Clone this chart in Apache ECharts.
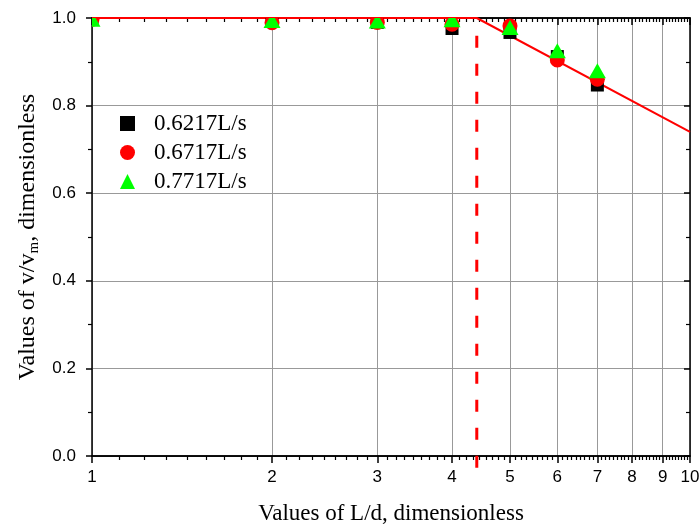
<!DOCTYPE html>
<html>
<head>
<meta charset="utf-8">
<script src="https://cdn.jsdelivr.net/npm/echarts@6/dist/echarts.min.js"></script>
<style>html,body{margin:0;padding:0;background:#fff;}#c{width:700px;height:529px;}</style>
</head>
<body>
<div id="c"></div>
<script>
// ---- data ----
const ldValues = [1, 2, 3, 4, 5, 6, 7];
const flow1Name = '0.6217L/s';
const flow2Name = '0.6717L/s';
const flow3Name = '0.7717L/s';
const flow1 = [1.0, 0.992, 0.990, 0.976, 0.967, 0.912, 0.847];
const flow2 = [0.997, 0.989, 0.990, 0.986, 0.982, 0.904, 0.860];
const flow3 = [0.995, 0.992, 0.991, 0.994, 0.976, 0.923, 0.877];
const fitX = [1, 4.4, 10];
const fitY = [1.0, 1.0, 0.74];
const breakX = 4.4;
const breakY = [-0.027, 0.977];
const xTickValues = [1, 2, 3, 4, 5, 6, 7, 8, 9, 10];

// minor tick positions: 8 minor ticks per major interval
const xMinor = [];
for (let i = 0; i < xTickValues.length - 1; i++) {
  const a = xTickValues[i], b = xTickValues[i + 1];
  for (let k = 1; k <= 8; k++) xMinor.push(a + k * (b - a) / 9);
}

const pair = (xs, ys) => xs.map((x, i) => [x, ys[i]]);

const serif = 'Liberation Serif';
const sans = 'Liberation Sans';

const baseX = {
  type: 'log', logBase: 10, min: 1, max: 10, gridIndex: 0,
  axisLine: { show: true, onZero: false, lineStyle: { color: '#000', width: 1.5 } },
  splitLine: { show: false },
  axisLabel: { show: false },
  minorTick: { show: false },
  minorSplitLine: { show: false }
};

// marker drawers (custom series so markers are clipped by the plot frame)
function makeRender(kind) {
  return function (params, api) {
    const p = api.coord([api.value(0), api.value(1)]);
    const color = api.visual('color');
    if (kind === 'rect') {
      return { type: 'rect', shape: { x: p[0] - 6.5, y: p[1] - 6.5, width: 13, height: 13 }, style: { fill: color } };
    }
    if (kind === 'circle') {
      return { type: 'circle', shape: { cx: p[0], cy: p[1], r: 7.5 }, style: { fill: color } };
    }
    return { type: 'polygon', shape: { points: [[p[0], p[1] - 8.5], [p[0] - 8.5, p[1] + 6.5], [p[0] + 8.5, p[1] + 6.5]] }, style: { fill: color } };
  };
}

const chart = echarts.init(document.getElementById('c'));
chart.setOption({
  animation: false,
  backgroundColor: '#fff',
  grid: { left: 92, right: 10, top: 18, bottom: 73, containLabel: false, outerBoundsMode: 'none' },
  legend: {
    orient: 'vertical', left: 115, top: 107, itemGap: 6,
    itemWidth: 15, itemHeight: 15,
    textStyle: { fontFamily: serif, fontSize: 23, color: '#000', padding: [0, 0, 0, 14] },
    data: [
      { name: flow1Name, icon: 'rect', itemStyle: { color: '#000000' } },
      { name: flow2Name, icon: 'circle', itemStyle: { color: '#ff0000' } },
      { name: flow3Name, icon: 'triangle', itemStyle: { color: '#00ff00' } }
    ]
  },
  xAxis: [
    Object.assign({}, baseX, {
      position: 'bottom',
      name: 'Values of L/d, dimensionless', nameLocation: 'middle', nameGap: 46,
      nameTextStyle: { fontFamily: serif, fontSize: 23, color: '#000' },
      axisTick: { show: true, inside: false, length: 7, customValues: xTickValues, lineStyle: { color: '#000', width: 1.5 } },
      axisLabel: { show: true, customValues: xTickValues, margin: 13, fontFamily: sans, fontSize: 17, color: '#000', formatter: v => String(Math.round(v)) },
      splitLine: { show: true, lineStyle: { color: '#999', width: 1 } }
    }),
    Object.assign({}, baseX, {
      position: 'bottom',
      axisTick: { show: true, inside: false, length: 4, customValues: xMinor, lineStyle: { color: '#000', width: 1.2 } }
    }),
    Object.assign({}, baseX, {
      position: 'top',
      axisTick: { show: true, inside: true, length: 7, customValues: xTickValues, lineStyle: { color: '#000', width: 1.5 } }
    }),
    Object.assign({}, baseX, {
      position: 'top',
      axisTick: { show: true, inside: true, length: 4, customValues: xMinor, lineStyle: { color: '#000', width: 1.2 } }
    })
  ],
  yAxis: [
    {
      type: 'value', min: 0, max: 1, interval: 0.2, position: 'left',
      name: 'Values of v/v{sub|m}, dimensionless', nameLocation: 'middle', nameGap: 50, nameRotate: 90,
      nameTextStyle: { fontFamily: serif, fontSize: 24, color: '#000', rich: { sub: { fontFamily: serif, fontSize: 15, color: '#000', verticalAlign: 'bottom', padding: [13, 0, 0, 0] } } },
      axisLine: { show: true, lineStyle: { color: '#000', width: 1.5 } },
      axisTick: { show: true, inside: false, length: 6, lineStyle: { color: '#000', width: 1.5 } },
      minorTick: { show: true, splitNumber: 2, length: 4, lineStyle: { color: '#000', width: 1.2 } },
      axisLabel: { margin: 16, fontFamily: sans, fontSize: 17, color: '#000', formatter: v => v.toFixed(1) },
      splitLine: { show: true, lineStyle: { color: '#999', width: 1 } }
    },
    {
      type: 'value', min: 0, max: 1, interval: 0.2, position: 'right',
      axisLine: { show: true, lineStyle: { color: '#000', width: 1.5 } },
      axisTick: { show: true, inside: true, length: 6, lineStyle: { color: '#000', width: 1.5 } },
      minorTick: { show: true, splitNumber: 2, length: 4, lineStyle: { color: '#000', width: 1.2 } },
      axisLabel: { show: false },
      splitLine: { show: false }
    }
  ],
  series: [
    {
      name: 'fit', type: 'line', data: pair(fitX, fitY), symbol: 'none',
      lineStyle: { color: '#ff0000', width: 2 }, z: 3
    },
    {
      name: 'break', type: 'line', data: [[breakX, breakY[0]], [breakX, breakY[1]]], symbol: 'none', clip: false,
      lineStyle: { color: '#ff0000', width: 3, type: [12, 16] }, z: 3
    },
    {
      name: flow1Name, type: 'custom', data: pair(ldValues, flow1), renderItem: makeRender('rect'),
      clip: true, itemStyle: { color: '#000000' }, z: 4
    },
    {
      name: flow2Name, type: 'custom', data: pair(ldValues, flow2), renderItem: makeRender('circle'),
      clip: true, itemStyle: { color: '#ff0000' }, z: 5
    },
    {
      name: flow3Name, type: 'custom', data: pair(ldValues, flow3), renderItem: makeRender('triangle'),
      clip: true, itemStyle: { color: '#00ff00' }, z: 6
    }
  ]
});
</script>
</body>
</html>
